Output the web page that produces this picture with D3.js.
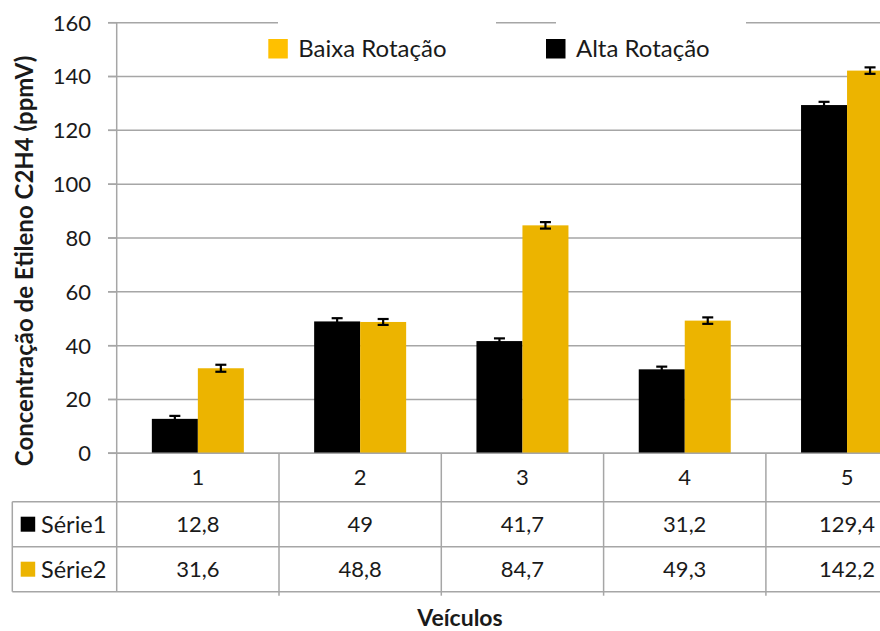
<!DOCTYPE html>
<html><head><meta charset="utf-8">
<script src="https://cdn.jsdelivr.net/npm/d3@7"></script>
<style>
body{margin:0;background:#fff}
svg{display:block}
text{font-family:Lato,"Open Sans",sans-serif;fill:#1a1a1a}
</style>
</head><body>
<svg id="c" width="880" height="631"></svg>
<script>
// ---- data ----
const categories = ["1", "2", "3", "4", "5"];
const seriesNames = ["Série1", "Série2"];
const legendNames = ["Baixa Rotação", "Alta Rotação"];
const serie1 = [12.8, 49, 41.7, 31.2, 129.4];
const serie2 = [31.6, 48.8, 84.7, 49.3, 142.2];
const err1 = [1.1, 1.2, 1.0, 1.0, 1.2];
const err2 = [1.3, 1.1, 1.2, 1.2, 1.2];
const yTicks = [0, 20, 40, 60, 80, 100, 120, 140, 160];
const yTitle = "Concentração de Etileno C2H4 (ppmV)";
const xTitle = "Veículos";

const colBlack = "#000000", colYellow = "#ECB400", colLegendYellow = "#FFC000", gridCol = "#A6A6A6";

const svg = d3.select("#c");
const x0 = 116.7, y0 = 453.3, yTop = 22.7;
const rows = [453.3, 501.7, 546.7, 591.7];

const x = d3.scaleBand().domain(categories).range([x0, x0 + 162.3 * categories.length]).paddingInner(0).paddingOuter(0);
const bw = x.bandwidth();
const xs = d3.scaleBand().domain([0, 1]).range([0, bw]).paddingInner(0).paddingOuter(0.764);
const y = d3.scaleLinear().domain([0, 160]).range([y0, yTop]);

// gridlines
svg.append("g").selectAll("line").data(yTicks).join("line")
  .attr("x1", 108).attr("x2", 880)
  .attr("y1", d => y(d)).attr("y2", d => y(d))
  .attr("stroke", gridCol).attr("stroke-width", 1.5);

// tick labels
svg.append("g").selectAll("text").data(yTicks).join("text")
  .attr("x", 91).attr("y", d => y(d)).attr("dy", "0.36em")
  .attr("text-anchor", "end").style("font-size", "22px").text(d => d);

// legend blanks over top gridline
svg.append("rect").attr("x", 278).attr("y", 14).attr("width", 218).attr("height", 18).attr("fill", "#fff");
svg.append("rect").attr("x", 556).attr("y", 14).attr("width", 190).attr("height", 18).attr("fill", "#fff");

// bars
const series = [serie1, serie2];
const errs = [err1, err2];
const cols = [colBlack, colYellow];
series.forEach((vals, si) => {
  const g = svg.append("g");
  g.selectAll("rect").data(vals).join("rect")
    .attr("x", (d, i) => x(categories[i]) + xs(si))
    .attr("width", xs.bandwidth())
    .attr("y", d => y(d))
    .attr("height", d => y0 - y(d))
    .attr("fill", cols[si]);
});
// error bars
series.forEach((vals, si) => {
  const g = svg.append("g").attr("stroke", "#000").attr("stroke-width", 2.2);
  vals.forEach((v, i) => {
    const cx = x(categories[i]) + xs(si) + xs.bandwidth() / 2;
    const e = errs[si][i];
    g.append("line").attr("x1", cx).attr("x2", cx).attr("y1", y(v + e)).attr("y2", y(v - e));
    g.append("line").attr("x1", cx - 5.5).attr("x2", cx + 5.5).attr("y1", y(v + e)).attr("y2", y(v + e));
    g.append("line").attr("x1", cx - 5.5).attr("x2", cx + 5.5).attr("y1", y(v - e)).attr("y2", y(v - e));
  });
});

// table lines
const tl = svg.append("g").attr("stroke", gridCol).attr("stroke-width", 1.5);
tl.append("line").attr("x1", 108).attr("x2", 880).attr("y1", rows[0]).attr("y2", rows[0]);
[rows[1], rows[2], rows[3]].forEach(r => tl.append("line").attr("x1", 12.3).attr("x2", 880).attr("y1", r).attr("y2", r));
tl.append("line").attr("x1", x0).attr("x2", x0).attr("y1", yTop).attr("y2", rows[3]);
tl.append("line").attr("x1", 12.3).attr("x2", 12.3).attr("y1", rows[1]).attr("y2", rows[3]);
categories.forEach(c => {
  const xx = x(c) + bw;
  tl.append("line").attr("x1", xx).attr("x2", xx).attr("y1", rows[0]).attr("y2", rows[3] + 4);
});
// axis ticks
yTicks.forEach(t => tl.append("line").attr("x1", 108).attr("x2", x0).attr("y1", y(t)).attr("y2", y(t)));

// category labels
svg.append("g").selectAll("text").data(categories).join("text")
  .attr("x", d => x(d) + bw / 2).attr("y", (rows[0] + rows[1]) / 2).attr("dy", "0.36em")
  .attr("text-anchor", "middle").style("font-size", "22px").text(d => d);

// table values
const fmt = v => String(v).replace(".", ",");
series.forEach((vals, si) => {
  const cy = (rows[si + 1] + rows[si + 2]) / 2;
  svg.append("g").selectAll("text").data(vals).join("text")
    .attr("x", (d, i) => x(categories[i]) + bw / 2).attr("y", cy).attr("dy", "0.36em")
    .attr("text-anchor", "middle").style("font-size", "22px").text(d => fmt(d));
  svg.append("rect").attr("x", 20.7).attr("y", cy - 7.5).attr("width", 14.5).attr("height", 15).attr("fill", cols[si]);
  svg.append("text").attr("x", 41).attr("y", cy).attr("dy", "0.36em").style("font-size", "23.5px").text(seriesNames[si]);
});

// legend
const legCols = [colLegendYellow, colBlack];
const legX = [268.3, 546];
legendNames.forEach((n, i) => {
  svg.append("rect").attr("x", legX[i]).attr("y", 39).attr("width", 19.5).attr("height", 19.5).attr("fill", legCols[i]);
  svg.append("text").attr("x", legX[i] + 30).attr("y", 57).style("font-size", "24px").text(n);
});

// axis titles
svg.append("text").attr("transform", "translate(33,261) rotate(-90)")
  .attr("text-anchor", "middle").style("font-size", "24px").style("font-weight", "bold").text(yTitle);
svg.append("text").attr("x", 460).attr("y", 626)
  .attr("text-anchor", "middle").style("font-size", "23px").style("font-weight", "bold").text(xTitle);
</script>
</body></html>
